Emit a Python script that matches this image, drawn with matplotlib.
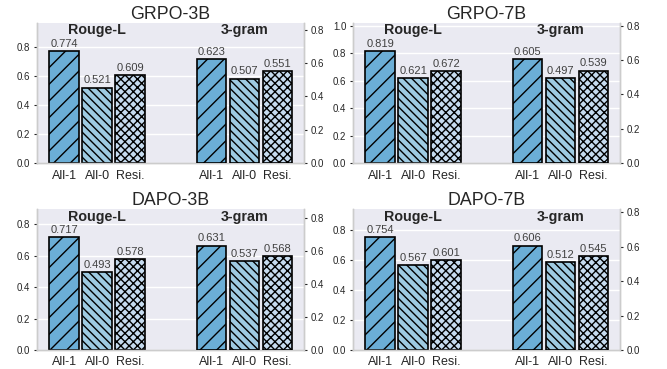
import matplotlib
matplotlib.use("Agg")
import matplotlib.pyplot as plt

plt.rcParams['font.family'] = ['Liberation Sans', 'DejaVu Sans']
plt.rcParams['hatch.linewidth'] = 1.0

titles = ["GRPO-3B", "GRPO-7B", "DAPO-3B", "DAPO-7B"]
categories = ["All-1", "All-0", "Resi."]
groups = ["Rouge-L", "3-gram"]
rouge_l = [
    [0.774, 0.521, 0.609],
    [0.819, 0.621, 0.672],
    [0.717, 0.493, 0.578],
    [0.754, 0.567, 0.601],
]
ngram3 = [
    [0.623, 0.507, 0.551],
    [0.605, 0.497, 0.539],
    [0.631, 0.537, 0.568],
    [0.606, 0.512, 0.545],
]

colors = ["#6BAED6", "#9ECAE1", "#C6DBEF"]
hatches = ["//", "\\\\\\\\", "xxxx"]
bg = "#EAEAF2"
spine_c = "#CCCCCC"
text_c = "#262626"
val_c = "#404040"

fig = plt.figure(figsize=(6.67, 3.69), dpi=100)
positions = [
    [0.055, 0.5575, 0.4008, 0.381],
    [0.5288, 0.5575, 0.4008, 0.381],
    [0.055, 0.0515, 0.4008, 0.382],
    [0.5288, 0.0515, 0.4008, 0.382],
]

x1 = [0, 1, 2]
x2 = [4.47, 5.47, 6.47]
width = 0.9

for i in range(4):
    ax = fig.add_axes(positions[i])
    ax.set_facecolor(bg)
    ax2 = ax.twinx()
    for j in range(3):
        ax.bar(x1[j], rouge_l[i][j], width, color=colors[j], hatch=hatches[j],
               edgecolor="black", linewidth=1.2, zorder=3)
        ax.annotate(f"{rouge_l[i][j]:.3f}", (x1[j], rouge_l[i][j]), xytext=(0, 1.5),
                    textcoords="offset points", ha="center", va="bottom",
                    fontsize=8, color=val_c, zorder=4)
        ax2.bar(x2[j], ngram3[i][j], width, color=colors[j], hatch=hatches[j],
                edgecolor="black", linewidth=1.2, zorder=3)
        ax2.annotate(f"{ngram3[i][j]:.3f}", (x2[j], ngram3[i][j]), xytext=(0, 1.5),
                     textcoords="offset points", ha="center", va="bottom",
                     fontsize=8, color=val_c, zorder=4)
    ax.set_ylim(0, max(rouge_l[i]) * 1.25)
    ax2.set_ylim(0, max(ngram3[i]) * 1.35)
    ax.set_xlim(-0.83, 7.27)
    ax.set_xticks(x1 + x2)
    ax.set_xticklabels(categories * 2, fontsize=9, color=text_c)
    ax.tick_params(axis='x', length=0, pad=4.5)
    ax.tick_params(axis='y', labelsize=7, colors=text_c, length=2.5, width=0.8,
                   pad=2)
    ax2.tick_params(axis='y', labelsize=7, colors=text_c, length=2.5, width=0.8,
                    pad=2)
    ax.yaxis.grid(True, color="white", linewidth=1.0, zorder=0)
    ax.set_axisbelow(True)
    ax2.grid(False)
    for a in (ax, ax2):
        for s in ["left", "right", "bottom"]:
            a.spines[s].set_color(spine_c)
            a.spines[s].set_linewidth(1.0)
        a.spines["top"].set_visible(False)
    ax.set_title(titles[i], fontsize=12.8, color=text_c, pad=3)
    ax.text((x1[0] + x1[-1]) / 2, 0.945, groups[0], transform=ax.get_xaxis_transform(),
            ha="center", va="center", fontsize=10.3, fontweight="bold", color=text_c,
            zorder=5)
    ax.text((x2[0] + x2[-1]) / 2, 0.945, groups[1], transform=ax.get_xaxis_transform(),
            ha="center", va="center", fontsize=10.3, fontweight="bold", color=text_c,
            zorder=5)

fig.savefig("out.png", dpi=100)
